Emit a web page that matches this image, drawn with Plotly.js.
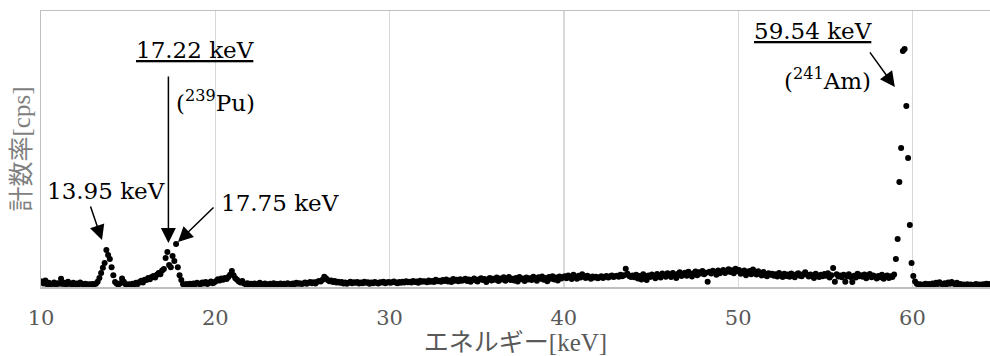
<!DOCTYPE html>
<html>
<head>
<meta charset="utf-8">
<script src="https://cdn.plot.ly/plotly-3.0.1.min.js"></script>
<style>html,body{margin:0;padding:0;background:#fff;}#chart{width:990px;height:356px;}</style>
</head>
<body>
<div id="chart"></div>
<script>
// Spectrum channels: first channel energy and channel width (keV)
const energyStartKeV = 10.05;
const channelWidthKeV = 0.1;

// Count rate per channel (arbitrary cps units), one row per keV (10.05 ... 64.45)
const countRate = [
  2.0, 1.3, 2.4, 1.0, 1.5, 0.9, 1.2, 1.6, 0.8, 1.4,
  1.2, 3.0, 1.1, 1.5, 0.9, 1.9, 1.2, 1.0, 1.5, 0.8,
  1.3, 1.0, 1.6, 1.1, 0.9, 1.2, 0.8, 1.0, 0.9, 1.1,
  1.0, 1.2, 1.9, 3.3, 5.1, 7.0, 8.7, 13.4, 11.6, 10.1,
  7.2, 4.3, 1.8, 1.2, 0.9, 1.4, 3.1, 1.9, 1.0, 0.8,
  1.0, 0.7, 1.2, 0.9, 1.5, 1.1, 1.8, 2.3, 1.6, 2.6,
  2.5, 3.3, 2.8, 3.6, 4.0, 3.4, 4.4, 5.1, 4.6, 6.0,
  6.5, 10.5, 12.7, 8.0, 7.2, 11.2, 9.4, 15.6, 7.2, 4.3,
  2.5, 1.0, 0.8, 1.1, 0.7, 1.2, 0.9, 1.3, 1.0, 1.5,
  1.2, 1.0, 1.6, 1.3, 1.8, 1.1, 1.5, 2.0, 1.4, 1.7,
  2.2, 2.8, 2.4, 3.1, 2.6, 3.3, 2.9, 3.6, 4.4, 5.8,
  4.3, 3.2, 2.6, 2.0, 1.6, 2.2, 1.3, 1.0, 1.4, 0.9,
  1.2, 0.8, 1.3, 1.0, 0.7, 1.5, 1.1, 0.9, 1.3, 1.0,
  0.8, 1.2, 1.0, 1.4, 0.9, 1.1, 0.7, 1.3, 1.0, 1.2,
  1.0, 1.4, 1.1, 0.9, 1.3, 1.0, 1.5, 1.2, 1.4, 1.1,
  1.3, 1.6, 1.2, 1.5, 1.8, 1.4, 1.7, 1.3, 1.9, 2.2,
  2.0, 2.6, 3.7, 3.2, 2.5, 2.1, 2.4, 1.8, 2.2, 1.6,
  1.9, 1.5, 1.8, 1.3, 1.6, 1.2, 1.5, 1.9, 1.4, 1.7,
  1.5, 1.8, 1.3, 1.6, 1.4, 1.9, 1.5, 1.7, 1.2, 1.6,
  1.4, 1.8, 1.5, 1.3, 1.7, 1.6, 1.9, 1.4, 1.6, 1.8,
  1.5, 1.7, 2.0, 1.6, 1.4, 1.8, 1.5, 1.9, 1.6, 2.1,
  1.7, 1.9, 1.6, 2.2, 1.8, 2.0, 1.5, 2.3, 1.9, 2.1,
  2.0, 1.7, 2.4, 1.9, 2.2, 1.8, 2.6, 2.1, 2.3, 1.9,
  2.5, 2.2, 2.7, 2.0, 2.4, 1.8, 2.9, 2.3, 2.6, 2.1,
  2.8, 2.3, 2.6, 3.0, 2.2, 2.7, 1.9, 2.5, 3.1, 2.4,
  2.0, 2.8, 3.2, 2.5, 2.9, 1.8, 2.7, 3.3, 2.4, 3.0,
  2.6, 3.4, 2.2, 3.1, 2.7, 3.5, 2.3, 2.9, 3.6, 2.5,
  3.0, 2.4, 3.3, 2.0, 3.6, 2.8, 3.1, 2.2, 3.4, 2.7,
  3.2, 2.5, 3.7, 2.9, 2.3, 3.5, 3.0, 3.8, 2.6, 3.3,
  2.1, 3.6, 3.0, 3.9, 2.7, 3.4, 2.4, 3.8, 3.1, 3.5,
  3.9, 3.2, 4.2, 3.5, 2.9, 4.4, 3.7, 3.0, 4.1, 3.4,
  4.6, 3.9, 3.3, 4.1, 3.6, 3.0, 3.8, 3.4, 3.7, 3.2,
  3.5, 3.9, 3.3, 3.7, 4.0, 3.4, 3.8, 4.2, 3.6, 3.9,
  4.1, 3.7, 4.4, 3.9, 4.3, 6.6, 4.8, 4.0, 3.6, 4.2,
  3.5, 4.4, 3.1, 4.0, 2.7, 4.6, 3.8, 2.5, 4.2, 3.6,
  4.5, 3.9, 3.2, 4.7, 4.1, 3.4, 4.9, 4.3, 3.7, 5.0,
  4.4, 3.6, 5.1, 4.2, 3.3, 4.8, 5.3, 4.0, 4.6, 5.2,
  4.1, 5.5, 4.7, 3.8, 5.0, 5.6, 4.3, 5.3, 4.9, 5.8,
  4.6, 5.2, 1.9, 5.5, 4.9, 5.9, 5.3, 4.4, 6.0, 5.0,
  5.6, 6.2, 5.1, 5.8, 6.4, 5.4, 6.1, 5.0, 6.6, 5.7,
  6.2, 4.8, 5.5, 6.0, 4.3, 5.2, 5.8, 4.6, 6.3, 5.1,
  4.5, 5.7, 4.9, 4.2, 5.4, 4.7, 3.9, 5.0, 4.4, 4.8,
  4.1, 4.6, 3.8, 5.1, 4.3, 3.6, 4.8, 4.0, 4.5, 3.7,
  4.9, 4.2, 3.5, 4.6, 5.0, 4.1, 3.9, 4.7, 5.3, 4.4,
  3.8, 4.5, 4.0, 3.3, 4.8, 4.2, 3.6, 4.4, 3.9, 4.7,
  4.1, 5.0, 3.4, 4.3, 6.9, 1.9, 4.6, 3.8, 4.2, 3.5,
  4.4, 1.9, 3.9, 4.6, 3.6, 1.8, 4.1, 3.4, 4.8, 3.9,
  4.3, 3.7, 4.5, 3.2, 4.0, 4.7, 3.5, 4.2, 3.8, 3.1,
  4.0, 3.5, 4.4, 3.0, 3.8, 4.2, 3.3, 3.9, 3.6, 4.5,
  10.1, 17.4, 38.0, 50.4, 85.5, 86.2, 65.6, 46.7, 22.5, 8.7,
  4.0, 2.0, 1.2, 0.8, 1.0, 0.6, 0.9, 1.2, 0.7, 1.1,
  0.8, 1.3, 0.9, 1.5, 1.1, 1.7, 1.2, 0.9, 1.4, 1.0,
  1.6, 1.2, 1.8, 1.3, 1.0, 1.5, 0.8, 1.1, 0.7, 0.9,
  0.6, 1.0, 0.7, 0.9, 0.5, 0.8, 1.1, 0.6, 0.9, 0.7,
  1.0, 0.8, 1.2, 0.9, 1.1
];

const xTickValues = [10, 20, 30, 40, 50, 60];
const xTickLabels = ['10', '20', '30', '40', '50', '60'];
const xAxisTitle = 'エネルギー[keV]';
const yAxisTitle = '計数率[cps]';

// Peak labels
const peakLabels = ['<u>17.22 keV</u>', '(<sup>239</sup>Pu)', '13.95 keV', '17.75 keV', '<u>59.54 keV</u>', '(<sup>241</sup>Am)'];

const serif = 'DejaVu Serif';
const titleFont = 'Liberation Serif, Noto Sans CJK JP';

const trace = {
  type: 'scatter',
  mode: 'markers',
  x0: energyStartKeV,
  dx: channelWidthKeV,
  y: countRate,
  marker: { color: '#000000', size: 6 },
  hoverinfo: 'skip'
};

function label(text, x, y, xanchor) {
  return { text: text, x: x, y: y, xref: 'x', yref: 'y', showarrow: false,
    xanchor: xanchor || 'center', yanchor: 'middle',
    font: { family: serif, size: 23, color: '#000000' } };
}
function arrow(x, y, ax, ay) {
  return { text: '', x: x, y: y, xref: 'x', yref: 'y', showarrow: true,
    ax: ax, ay: ay, arrowhead: 2, arrowsize: 2, arrowwidth: 1.5, arrowcolor: '#000000', standoff: 0 };
}

const annotations = [
  label(peakLabels[0], 18.86, 85.9),
  label(peakLabels[1], 20.04, 67.4),
  label(peakLabels[2], 13.73, 34.8),
  label(peakLabels[3], 23.71, 30.4),
  label(peakLabels[4], 54.29, 92.8),
  label(peakLabels[5], 57.73, 75.4, 'right'),
  arrow(17.31, 15.9, 0, -168),
  arrow(13.50, 17.0, -12, -35),
  arrow(17.86, 16.3, 37, -36),
  arrow(58.99, 72.5, -26, -36)
];

const layout = {
  width: 990,
  height: 356,
  margin: { l: 41, r: 0, t: 11, b: 69 },
  paper_bgcolor: '#ffffff',
  plot_bgcolor: '#ffffff',
  showlegend: false,
  xaxis: {
    range: [10, 64.45],
    tickmode: 'array',
    tickvals: xTickValues,
    ticktext: xTickLabels,
    showgrid: true,
    gridcolor: '#d9d9d9',
    gridwidth: 1.3,
    zeroline: false,
    showline: true,
    linecolor: '#bfbfbf',
    linewidth: 1.5,
    mirror: true,
    ticks: 'outside',
    ticklen: 11,
    tickcolor: 'rgba(0,0,0,0)',
    tickfont: { family: serif, size: 21, color: '#595959' },
    title: { text: xAxisTitle, standoff: 0, font: { family: titleFont, size: 25, color: '#595959' } },
    automargin: false
  },
  yaxis: {
    range: [0, 100],
    showgrid: false,
    zeroline: false,
    showline: true,
    linecolor: '#bfbfbf',
    linewidth: 1.5,
    showticklabels: false,
    ticks: '',
    title: { text: yAxisTitle, standoff: 2, font: { family: titleFont, size: 25, color: '#7f7f7f' } },
    automargin: false
  },
  annotations: annotations
};

Plotly.newPlot('chart', [trace], layout, { displayModeBar: false, staticPlot: true });
</script>
</body>
</html>
